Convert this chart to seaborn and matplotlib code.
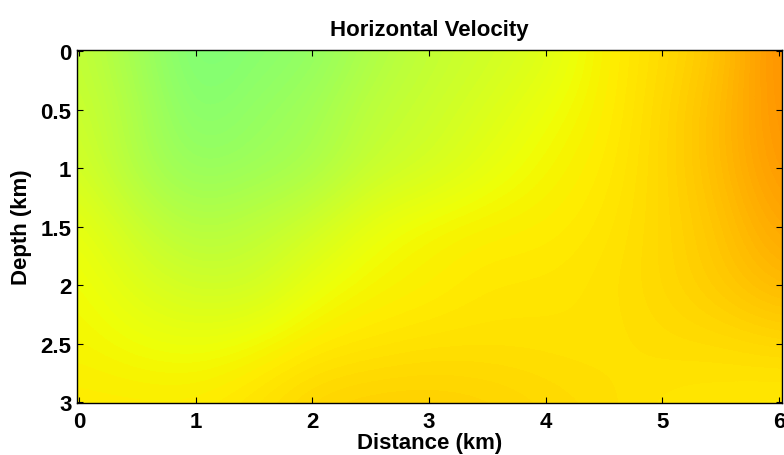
import numpy as np
import matplotlib
matplotlib.use("Agg")
import matplotlib.pyplot as plt
import seaborn as sns

# Distance (km) and depth (km) grid nodes
distance = [0, 0.5, 1, 1.5, 2, 2.5, 3, 3.5, 4, 4.5, 5, 5.5, 6]
depth = [0, 0.5, 1, 1.5, 2, 2.5, 3]

# Horizontal velocity (normalised colour-scale units), one row per depth
v_d00 = [0.59, 0.545, 0.50, 0.515, 0.525, 0.56, 0.585, 0.60, 0.618, 0.655, 0.675, 0.70, 0.76]
v_d05 = [0.60, 0.56, 0.51, 0.53, 0.545, 0.58, 0.595, 0.615, 0.638, 0.655, 0.68, 0.71, 0.755]
v_d10 = [0.61, 0.56, 0.53, 0.54, 0.555, 0.59, 0.605, 0.63, 0.648, 0.66, 0.68, 0.71, 0.75]
v_d15 = [0.635, 0.595, 0.565, 0.58, 0.60, 0.635, 0.65, 0.655, 0.657, 0.665, 0.68, 0.70, 0.735]
v_d20 = [0.645, 0.62, 0.60, 0.60, 0.635, 0.65, 0.655, 0.665, 0.665, 0.67, 0.68, 0.695, 0.715]
v_d25 = [0.65, 0.64, 0.635, 0.645, 0.66, 0.665, 0.67, 0.67, 0.67, 0.668, 0.675, 0.675, 0.68]
v_d30 = [0.66, 0.66, 0.66, 0.67, 0.685, 0.69, 0.69, 0.687, 0.68, 0.675, 0.665, 0.663, 0.66]

x_ticks = [0, 1, 2, 3, 4, 5, 6]
x_ticklabels = ["0", "1", "2", "3", "4", "5", "6"]
y_ticks = [0, 0.5, 1, 1.5, 2, 2.5, 3]
y_ticklabels = ["0", "0.5", "1", "1.5", "2", "2.5", "3"]

sns.set_style("ticks")
plt.rcParams["font.family"] = ["Liberation Sans", "DejaVu Sans"]
plt.rcParams["font.weight"] = "bold"
plt.rcParams["text.color"] = "black"
plt.rcParams["axes.labelcolor"] = "black"

field = np.array([v_d00, v_d05, v_d10, v_d15, v_d20, v_d25, v_d30])
dx = (distance[1] - distance[0]) / 2
dz = (depth[1] - depth[0]) / 2

fig = plt.figure(figsize=(7.84, 4.56), dpi=100)
ax = fig.add_axes([0.0982, 0.114, 0.8992, 0.7742])
ax.imshow(field, cmap=plt.get_cmap("jet", 256), vmin=0.0, vmax=1.0,
          interpolation="bicubic", interpolation_stage="data",
          extent=(distance[0] - dx, distance[-1] + dx, depth[-1] + dz, depth[0] - dz),
          aspect="auto")
ax.set_xlim(-0.017, 6.026)
ax.set_ylim(3.005, -0.01)

ax.set_xticks(x_ticks)
ax.set_xticklabels(x_ticklabels)
ax.set_yticks(y_ticks)
ax.set_yticklabels(y_ticklabels)
ax.tick_params(direction="in", length=4, width=0.8, top=True, right=True,
               labelsize=16, colors="black")
ax.tick_params(axis="x", pad=6)
ax.tick_params(axis="y", pad=4)
for lab in ax.get_xticklabels() + ax.get_yticklabels():
    lab.set_fontweight("bold")
for s in ax.spines.values():
    s.set_linewidth(1.0)
    s.set_color("black")

ax.set_xlabel("Distance (km)", fontsize=16, fontweight="bold", labelpad=0, color="black")
ax.set_ylabel("Depth (km)", fontsize=16, fontweight="bold", labelpad=6, color="black")
ax.set_title("Horizontal Velocity", fontsize=16, fontweight="bold", pad=11, color="black")

fig.savefig("out.png", dpi=100)
